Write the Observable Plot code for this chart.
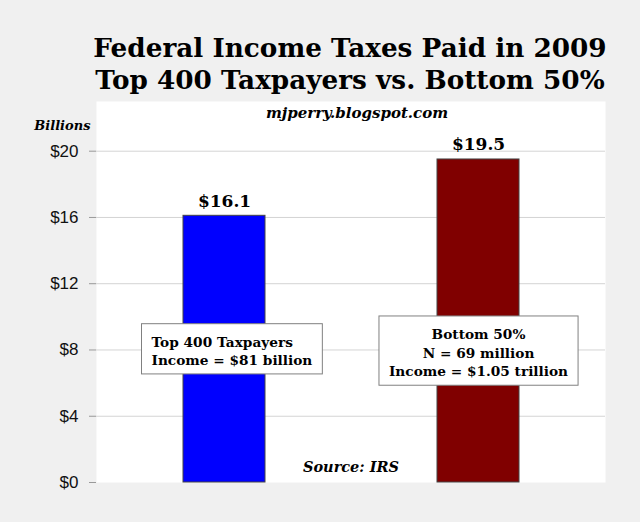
<!DOCTYPE html>
<html><head><meta charset="utf-8">
<script src="https://cdn.jsdelivr.net/npm/d3@7"></script>
<script src="https://cdn.jsdelivr.net/npm/@observablehq/plot@0.6"></script>
<style>
html,body{margin:0;padding:0;background:#f0f0f0;}
body{width:640px;height:522px;overflow:hidden;}
#title{box-sizing:border-box;height:101px;padding:32px 0 0 60px;text-align:center;font:bold 26.3px/32px "DejaVu Serif";color:#000;white-space:nowrap;}
#chart svg{display:block;}
</style></head><body>
<div id="title"><div>Federal Income Taxes Paid in 2009</div><div>Top 400 Taxpayers vs. Bottom 50%</div></div>
<div id="chart"></div>
<script>
const categories = ["Top 400 Taxpayers", "Bottom 50%"];
const taxesPaid = [16.1, 19.5];
const valueLabels = ["$16.1", "$19.5"];
const barColors = ["#0000ff", "#800000"];
const yTicks = [0, 4, 8, 12, 16, 20];
const noteTexts = ["Top 400 Taxpayers\nIncome = $81 billion", "Bottom 50%\nN = 69 million\nIncome = $1.05 trillion"];
const noteY = [8.0, 7.9];
const unitLabel = "Billions";
const watermark = "mjperry.blogspot.com";
const sourceText = "Source: IRS";

const data = categories.map((c, i) => ({category: c, value: taxesPaid[i], label: valueLabels[i], color: barColors[i], note: noteTexts[i], noteY: noteY[i]}));

const serif = "DejaVu Serif";
const plot = Plot.plot({
  width: 640,
  height: 421,
  marginTop: 0,
  marginBottom: 40,
  marginLeft: 96,
  marginRight: 35,
  style: {background: "transparent", overflow: "visible"},
  x: {domain: categories, paddingInner: 0.678, paddingOuter: 0.339, axis: null},
  y: {domain: [0, 23], axis: null},
  marks: [
    Plot.frame({fill: "white", stroke: "none"}),
    Plot.gridY(yTicks.filter(d => d > 0), {stroke: "#d4d4d4", strokeOpacity: 1}),
    Plot.axisY(yTicks, {tickFormat: d => "$" + d, tickSize: 7, tickPadding: 11, stroke: "#999", fill: "#111", fontSize: 17, fontFamily: "Liberation Sans", label: null}),
    Plot.barY(data, {x: "category", y: "value", fill: "color", stroke: "#444", strokeWidth: 1}),
    Plot.text(data, {x: "category", y: "value", text: "label", lineAnchor: "bottom", dy: -9, fontFamily: serif, fontWeight: "bold", fontSize: 17, fill: "#000"}),
    Plot.text(data.slice(0, 1), {x: "category", y: "noteY", text: "note", textAnchor: "start", dx: -73, lineAnchor: "middle", lineHeight: 1.33, fontFamily: serif, fontWeight: "bold", fontSize: 13.7, fill: "#000", className: "notebox"}),
    Plot.text(data.slice(1, 2), {x: "category", y: "noteY", text: "note", textAnchor: "middle", dx: 0, lineAnchor: "middle", lineHeight: 1.36, fontFamily: serif, fontWeight: "bold", fontSize: 13.7, fill: "#000", className: "notebox"}),
    Plot.text([unitLabel], {frameAnchor: "top-left", textAnchor: "end", lineAnchor: "middle", dx: -6, dy: 24, fontFamily: serif, fontWeight: "bold", fontStyle: "italic", fontSize: 13, fill: "#000"}),
    Plot.text([watermark], {frameAnchor: "top", lineAnchor: "middle", dx: 6, dy: 12, fontFamily: serif, fontWeight: "bold", fontStyle: "italic", fontSize: 15, fill: "#000"}),
    Plot.text([sourceText], {frameAnchor: "bottom", lineAnchor: "middle", dy: -15, fontFamily: serif, fontWeight: "bold", fontStyle: "italic", fontSize: 14.5, fill: "#000"})
  ]
});
document.getElementById("chart").appendChild(plot);

// draw white bordered boxes behind the annotation texts
const padX = 10, padTop = 10, padBottom = 6;
plot.querySelectorAll("g.notebox text").forEach(t => {
  const b = t.getBBox();
  const r = document.createElementNS("http://www.w3.org/2000/svg", "rect");
  r.setAttribute("x", b.x - padX);
  r.setAttribute("y", b.y - padTop);
  r.setAttribute("width", b.width + 2 * padX);
  r.setAttribute("height", b.height + padTop + padBottom);
  r.setAttribute("fill", "white");
  r.setAttribute("stroke", "#808080");
  r.setAttribute("stroke-width", 1);
  const tr = t.getAttribute("transform");
  if (tr) r.setAttribute("transform", tr);
  t.parentNode.insertBefore(r, t);
});
</script>
</body></html>
